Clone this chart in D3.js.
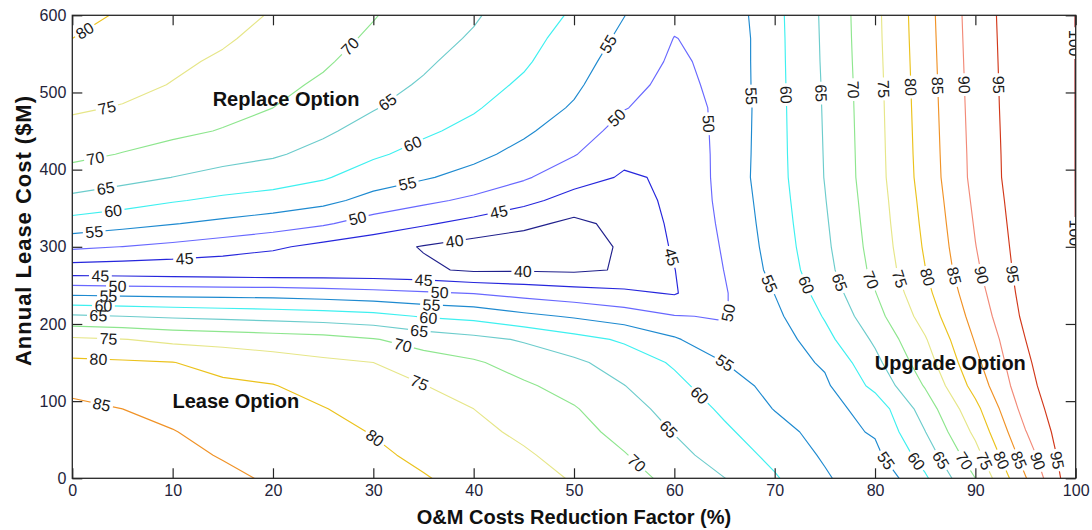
<!DOCTYPE html>
<html>
<head>
<meta charset="utf-8">
<script src="https://cdn.jsdelivr.net/npm/d3@7"></script>
<style>
  body { margin: 0; background: #ffffff; }
  svg text { font-family: "Liberation Sans", Arial, Helvetica, sans-serif; }
</style>
</head>
<body>
<svg id="chart" width="1092" height="530"></svg>
<script>
// O&M cost reduction factor (%) sampled along the x axis
const xValues = [0, 5, 10, 15, 20, 25, 30, 35, 40, 45, 50, 55, 60, 65, 70, 75, 80, 85, 90, 95, 100];
// Annual lease cost ($M) sampled along the y axis
const yValues = [0, 30, 60, 90, 120, 150, 180, 210, 240, 270, 300, 330, 360, 390, 420, 450, 480, 510, 540, 570, 600];

// Score surface, one row per lease cost (yValues), one entry per reduction factor (xValues)
const valueRows = [
  [89.3, 88.3, 87.3, 86.0, 84.4, 83.05, 81.7, 80.3, 78.5, 76.65, 74.65, 71.8, 68.7, 65.07, 60.5, 55.7, 51.0, 59.3, 70.0, 84.7, 99.4],
  [88.4, 87.2, 86.25, 84.7, 83.35, 82.2, 80.8, 79.1, 77.3, 75.6, 73.2, 70.3, 66.6, 62.7, 58.7, 54.3, 53.8, 62.2, 73.2, 87.4, 99.7],
  [87.4, 86.1, 85.2, 83.4, 82.3, 81.3, 79.8, 77.8, 76.2, 74.1, 71.8, 68.45, 64.8, 60.85, 57.0, 53.0, 55.5, 64.9, 76.1, 89.8, 99.9],
  [86.1, 85.0, 83.6, 82.1, 81.25, 80.2, 78.2, 76.45, 75.0, 72.35, 70.35, 67.0, 63.2, 59.1, 54.8, 53.3, 57.0, 67.3, 78.6, 92.0, 99.9],
  [83.7, 82.8, 81.9, 80.85, 80.2, 78.2, 76.6, 75.15, 72.8, 70.65, 68.3, 65.1, 61.3, 57.2, 53.5, 54.2, 61.3, 70.4, 81.8, 93.5, 99.9],
  [81.0, 80.6, 80.1, 78.5, 77.2, 75.9, 75.0, 72.2, 70.6, 68.0, 65.95, 62.8, 59.4, 55.0, 52.6, 55.6, 63.7, 72.7, 83.8, 94.3, 99.9],
  [75.85, 75.15, 73.8, 73.2, 72.5, 71.8, 70.3, 68.0, 66.4, 64.5, 61.75, 59.3, 55.6, 51.2, 52.1, 58.5, 65.8, 74.6, 85.4, 95.0, 99.8],
  [65.7, 65.0, 64.3, 63.7, 63.1, 62.5, 61.6, 59.6, 58.5, 56.2, 54.45, 52.5, 50.2, 49.7, 53.8, 60.4, 68.2, 77.0, 86.9, 96.1, 99.8],
  [53.9, 53.5, 53.2, 53.0, 52.9, 52.3, 51.5, 50.6, 49.8, 48.3, 47.1, 46.0, 44.6, 49.6, 55.1, 62.1, 69.8, 78.65, 88.1, 96.7, 99.8],
  [42.2, 41.96, 41.7, 41.4, 41.05, 41.2, 41.2, 40.8, 39.3, 39.5, 39.2, 40.4, 44.9, 50.1, 56.4, 63.4, 71.25, 79.9, 89.2, 97.1, 99.9],
  [51.0, 49.93, 48.8, 47.4, 45.8, 43.6, 41.9, 39.7, 38.0, 37.0, 36.5, 41.0, 45.5, 50.5, 56.98, 64.0, 71.85, 80.56, 89.87, 97.4, 100.02],
  [58.0, 56.6, 55.2, 53.9, 52.5, 50.6, 47.8, 45.6, 43.4, 41.3, 38.8, 41.5, 45.9, 50.9, 57.4, 64.4, 72.25, 81.05, 90.4, 97.7, 100.02],
  [63.7, 62.2, 60.4, 59.0, 58.0, 56.4, 53.3, 51.1, 48.96, 46.3, 43.1, 43.0, 46.0, 51.3, 57.75, 64.8, 72.6, 81.5, 90.95, 97.95, 100.02],
  [67.9, 66.5, 64.95, 63.4, 62.25, 60.5, 57.5, 55.5, 53.3, 50.6, 47.0, 44.5, 45.6, 51.7, 58.1, 65.15, 73.0, 82.0, 91.5, 98.2, 100.02],
  [71.2, 69.8, 68.3, 66.8, 65.6, 63.4, 60.75, 58.4, 56.3, 53.45, 50.3, 46.1, 46.5, 51.4, 58.2, 65.25, 73.1, 82.2, 91.6, 98.25, 100.02],
  [73.6, 72.25, 71.0, 69.75, 67.8, 65.8, 63.1, 60.8, 58.6, 55.8, 52.4, 48.2, 47.3, 51.2, 58.25, 65.35, 73.2, 82.35, 91.75, 98.3, 100.02],
  [75.6, 74.7, 72.9, 71.4, 70.0, 67.5, 65.3, 62.65, 60.5, 57.5, 54.5, 50.2, 48.0, 51.0, 58.3, 65.45, 73.3, 82.5, 91.9, 98.36, 100.02],
  [77.1, 76.4, 74.8, 72.85, 71.2, 69.3, 66.6, 64.5, 61.8, 59.3, 55.9, 51.4, 48.7, 51.2, 58.4, 65.55, 73.4, 82.65, 92.05, 98.38, 100.02],
  [78.5, 77.5, 75.9, 74.3, 72.35, 70.6, 68.0, 65.7, 63.2, 60.6, 57.1, 52.6, 49.3, 51.25, 58.45, 65.7, 73.55, 82.8, 92.2, 98.4, 100.02],
  [80.0, 78.5, 77.0, 75.6, 73.5, 71.55, 69.3, 66.75, 64.5, 61.55, 58.2, 53.9, 49.9, 51.2, 58.5, 65.8, 73.7, 82.95, 92.35, 98.42, 100.02],
  [81.4, 79.5, 78.0, 76.4, 74.7, 72.5, 70.25, 67.8, 65.5, 62.5, 59.4, 55.1, 51.0, 51.7, 58.6, 65.9, 73.8, 83.1, 92.5, 98.45, 100.02]
];

// Contour levels and their line colours
const levels = [40, 45, 50, 55, 60, 65, 70, 75, 80, 85, 90, 95, 100];
const levelColors = ["#20208c", "#2626dc", "#6868ff", "#1e8ad0", "#3ef0f0", "#6ccccc", "#8ee68e",
                     "#e6e688", "#ebc21c", "#f09226", "#f28a78", "#d2381a", "#a00a0a"];

// Inline contour labels: [level, reduction factor, lease cost]
const labelAnchors = [
  [80, 1.25, 579.8], [75, 3.5, 477.7], [70, 2.4, 407.8], [65, 3.4, 369.8], [60, 4.1, 344], [55, 2.2, 317],
  [45, 11.2, 282.6], [50, 28.5, 333], [55, 33.5, 376], [60, 34.1, 428], [65, 31.7, 482], [70, 28.2, 553],
  [55, 54.1, 557.5], [50, 54.6, 462.5], [50, 63.4, 459.5], [45, 42.6, 339.6], [40, 38.1, 307], [40, 44.9, 265.4],
  [45, 59.4, 285.7], [50, 66.05, 214.5],
  [45, 2.8, 259.8], [50, 4.5, 246.8], [55, 3.6, 233.9], [60, 3.1, 221.8], [65, 2.6, 210], [75, 3.6, 177.7],
  [80, 2.6, 154], [85, 2.9, 93.6],
  [45, 35.0, 253.3], [50, 36.6, 238], [55, 35.8, 225], [60, 35.5, 210], [65, 34.6, 193], [70, 33.0, 175.6],
  [75, 34.6, 123.9], [80, 30.2, 52.7], [70, 56.3, 20.3], [65, 59.4, 63.4], [60, 62.6, 108.7], [55, 64.9, 147.6],
  [55, 67.2, 495], [60, 70.9, 497], [65, 74.4, 499], [70, 77.7, 503.6], [75, 80.8, 504.5], [80, 83.4, 507],
  [85, 86.1, 508.7], [90, 88.75, 510], [95, 92.2, 510], [100, 99.8, 564],
  [55, 69.1, 249.8], [60, 73.0, 249.8], [65, 76.35, 253.3], [70, 79.7, 257.6], [75, 82.8, 259.8], [80, 85.3, 261],
  [85, 87.75, 261.9], [90, 90.5, 262.8], [95, 93.5, 264], [100, 99.45, 318],
  [55, 80.9, 21.1], [60, 84.0, 21.1], [65, 86.4, 22.4], [70, 88.7, 21], [75, 90.65, 21], [80, 92.4, 22.4],
  [85, 94.1, 22.4], [90, 95.9, 21], [95, 97.7, 22.4]
];

// Region annotations: [text, reduction factor, lease cost]
const regionNotes = [
  ["Replace Option", 21.3, 482],
  ["Lease Option", 16.3, 91],
  ["Upgrade Option", 87.5, 140]
];

const xTicks = [0, 10, 20, 30, 40, 50, 60, 70, 80, 90, 100];
const yTicks = [0, 100, 200, 300, 400, 500, 600];
const xTitle = "O&M Costs Reduction Factor (%)";
const yTitle = "Annual Lease Cost ($M)";

const W = 1092, H = 530;
const svg = d3.select("#chart");

const x = d3.scaleLinear().domain([0, 100]).range([72.3, 1075.7]);
const y = d3.scaleLinear().domain([0, 600]).range([478.3, 15.3]);
// grid cell coordinates from d3.contours -> data units
const gx = d3.scaleLinear().domain([0.5, xValues.length - 0.5]).range([xValues[0], xValues[xValues.length - 1]]);
const gy = d3.scaleLinear().domain([0.5, yValues.length - 0.5]).range([yValues[0], yValues[yValues.length - 1]]);
const color = d3.scaleOrdinal().domain(levels).range(levelColors);

const defs = svg.append("defs");
defs.append("clipPath").attr("id", "plotClip")
  .append("rect")
  .attr("x", x(0)).attr("y", y(600))
  .attr("width", x(100) - x(0)).attr("height", y(0) - y(600));

// contour rings for every level, in pixel space
const contourSets = d3.contours()
  .size([xValues.length, yValues.length])
  .thresholds(levels)(valueRows.flat());

const ringsByLevel = new Map();
contourSets.forEach(c => {
  const rings = [];
  c.coordinates.forEach(poly => poly.forEach(ring => {
    rings.push(ring.map(([cx, cy]) => [x(gx(cx)), y(gy(cy))]));
  }));
  ringsByLevel.set(c.value, rings);
});

// a gap mask per level, so labels only cut their own line
const masks = new Map();
levels.forEach((lv, k) => {
  const m = defs.append("mask").attr("id", "gap" + k)
    .attr("maskUnits", "userSpaceOnUse")
    .attr("x", 0).attr("y", 0).attr("width", W).attr("height", H);
  m.append("rect").attr("x", 0).attr("y", 0).attr("width", W).attr("height", H).attr("fill", "#fff");
  masks.set(lv, m);
});

const plot = svg.append("g").attr("clip-path", "url(#plotClip)");
const line = d3.line();
levels.forEach((lv, k) => {
  const rings = ringsByLevel.get(lv) || [];
  plot.append("path")
    .attr("d", rings.map(r => line(r)).join(""))
    .attr("fill", "none")
    .attr("stroke", color(lv))
    .attr("stroke-width", 1.15)
    .attr("stroke-linejoin", "round")
    .attr("mask", `url(#gap${k})`);
});

// place a label on the nearest point of its contour, aligned with the line
function placeOnContour(lv, px, py) {
  const rings = ringsByLevel.get(lv) || [];
  let best = null;
  rings.forEach(r => {
    const cum = [0];
    for (let i = 1; i < r.length; i++) {
      cum.push(cum[i - 1] + Math.hypot(r[i][0] - r[i - 1][0], r[i][1] - r[i - 1][1]));
    }
    for (let i = 0; i < r.length - 1; i++) {
      const [ax, ay] = r[i], [bx, by] = r[i + 1];
      const dx = bx - ax, dy = by - ay, L2 = dx * dx + dy * dy;
      let t = L2 > 0 ? ((px - ax) * dx + (py - ay) * dy) / L2 : 0;
      t = Math.max(0, Math.min(1, t));
      const qx = ax + t * dx, qy = ay + t * dy;
      const d = Math.hypot(px - qx, py - qy);
      if (!best || d < best.d) best = { d, r, cum, s: cum[i] + t * Math.sqrt(L2), qx, qy };
    }
  });
  if (!best) return null;
  const { r, cum } = best;
  const total = cum[cum.length - 1];
  const at = s => {
    s = ((s % total) + total) % total;
    let i = d3.bisectRight(cum, s) - 1;
    i = Math.max(0, Math.min(r.length - 2, i));
    const seg = cum[i + 1] - cum[i];
    const t = seg > 0 ? (s - cum[i]) / seg : 0;
    return [r[i][0] + t * (r[i + 1][0] - r[i][0]), r[i][1] + t * (r[i + 1][1] - r[i][1])];
  };
  const p1 = at(best.s - 9), p2 = at(best.s + 9);
  let ang = Math.atan2(p2[1] - p1[1], p2[0] - p1[0]) * 180 / Math.PI;
  while (ang > 90) ang -= 180;
  while (ang <= -90) ang += 180;
  return { cx: best.qx, cy: best.qy, ang };
}

const labelLayer = svg.append("g").attr("clip-path", "url(#plotClip)");
labelAnchors.forEach(([lv, lx, ly]) => {
  const p = placeOnContour(lv, x(lx), y(ly));
  if (!p) return;
  const tf = `translate(${p.cx},${p.cy}) rotate(${p.ang})`;
  const t = labelLayer.append("text")
    .attr("transform", tf)
    .attr("text-anchor", "middle")
    .attr("dy", "0.36em")
    .attr("font-size", 16)
    .attr("fill", "#1a1a1a")
    .text(lv);
  const w = t.node().getComputedTextLength() + 5;
  masks.get(lv).append("rect")
    .attr("transform", tf)
    .attr("x", -w / 2).attr("y", -8).attr("width", w).attr("height", 16)
    .attr("fill", "#000");
});

// region annotations
svg.append("g").selectAll("text").data(regionNotes).join("text")
  .attr("x", d => x(d[1])).attr("y", d => y(d[2]))
  .attr("text-anchor", "middle")
  .attr("font-size", 20).attr("font-weight", "bold")
  .attr("fill", "#111")
  .text(d => d[0]);

// axes: inward ticks on all four sides, labels on bottom and left
function styleAxis(g) {
  g.select(".domain").remove();
  g.selectAll(".tick line").attr("stroke", "#262626").attr("stroke-width", 1.2);
  g.selectAll(".tick text").attr("font-size", 16).attr("fill", "#23233a")
    .attr("font-family", "'Liberation Sans', Arial, sans-serif");
}
svg.append("g").attr("transform", `translate(0,${y(0)})`)
  .call(d3.axisBottom(x).tickValues(xTicks).tickSizeInner(-10).tickSizeOuter(0).tickPadding(6))
  .call(styleAxis);
svg.append("g").attr("transform", `translate(0,${y(600)})`)
  .call(d3.axisTop(x).tickValues(xTicks).tickSizeInner(-10).tickSizeOuter(0).tickFormat(""))
  .call(styleAxis);
svg.append("g").attr("transform", `translate(${x(0)},0)`)
  .call(d3.axisLeft(y).tickValues(yTicks).tickSizeInner(-10).tickSizeOuter(0).tickPadding(6))
  .call(styleAxis);
svg.append("g").attr("transform", `translate(${x(100)},0)`)
  .call(d3.axisRight(y).tickValues(yTicks).tickSizeInner(-10).tickSizeOuter(0).tickFormat(""))
  .call(styleAxis);

// plot frame
svg.append("rect")
  .attr("x", x(0)).attr("y", y(600))
  .attr("width", x(100) - x(0)).attr("height", y(0) - y(600))
  .attr("fill", "none").attr("stroke", "#262626").attr("stroke-width", 1.3);

// axis titles
svg.append("text")
  .attr("x", (x(0) + x(100)) / 2).attr("y", 523.5)
  .attr("text-anchor", "middle").attr("font-size", 20).attr("font-weight", "bold").attr("fill", "#111")
  .text(xTitle);
svg.append("text")
  .attr("transform", `translate(31,231) rotate(-90)`)
  .attr("text-anchor", "middle").attr("font-size", 22).attr("font-weight", "bold").attr("fill", "#111")
  .attr("textLength", 270).attr("lengthAdjust", "spacing")
  .text(yTitle);
</script>
</body>
</html>
